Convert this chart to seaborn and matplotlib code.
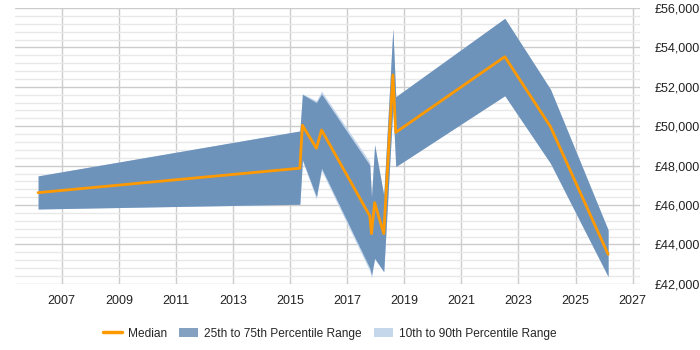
import matplotlib
matplotlib.use("Agg")
import matplotlib.pyplot as plt
import seaborn as sns
import pandas as pd
import numpy as np
from matplotlib.ticker import MultipleLocator, FuncFormatter
from matplotlib.lines import Line2D
from matplotlib.patches import Patch

# data (decimal years)
years = [2006.17, 2015.34, 2015.43, 2015.92, 2016.10, 2017.79, 2017.85, 2017.96, 2018.28, 2018.60, 2018.70, 2022.52, 2024.12, 2026.14]
median = [46630, 47870, 50050, 48880, 49810, 45450, 44550, 46120, 44550, 52600, 49690, 53530, 49980, 43500]
p25 = [45800, 46040, 48300, 46430, 47870, 42800, 42450, 43300, 42620, 51000, 47950, 51550, 48120, 42370]
p75 = [47480, 49760, 51620, 51200, 51640, 48030, 46400, 49050, 46500, 54970, 51500, 55480, 51880, 44740]
p10 = [45800, 46040, 48250, 46300, 47750, 42650, 42300, 43250, 42600, 51000, 47950, 51550, 48120, 42370]
p90 = [47480, 49760, 51650, 51300, 51780, 48200, 46400, 49100, 46500, 54970, 51500, 55480, 51880, 44740]

df = pd.DataFrame({"year": years, "median": median})

sns.set_style("white")
plt.rcParams['font.family'] = ['Liberation Sans', 'DejaVu Sans']

fig = plt.figure(figsize=(7, 3.5), dpi=100)
ax = fig.add_axes([0.021, 0.189, 0.893, 0.788])

c_dark = "#6e93bb"
c_light = "#c5d7eb"
c_med = "#ff9900"

ax.fill_between(years, p10, p90, color=c_light, lw=0, zorder=2)
ax.fill_between(years, p25, p75, color=c_dark, lw=0, zorder=3)
sns.lineplot(data=df, x="year", y="median", ax=ax, color=c_med, lw=2, zorder=4, legend=False)

ax.set_xlim(2005.35, 2027.25)
ax.set_ylim(42000, 56000)
ax.set_xticks(np.arange(2007, 2028, 2))
ax.xaxis.set_major_formatter(FuncFormatter(lambda v, p: f"{int(round(v))}"))
ax.yaxis.set_major_locator(MultipleLocator(2000))
ax.yaxis.set_minor_locator(MultipleLocator(400))
ax.yaxis.set_major_formatter(FuncFormatter(lambda v, p: f"£{int(v):,}"))
ax.yaxis.tick_right()
ax.grid(True, which="major", axis="both", color="#cccccc", lw=1, zorder=0)
ax.grid(True, which="minor", axis="y", color="#e8e8e8", lw=1, zorder=0)
ax.set_axisbelow(True)
ax.tick_params(axis="both", which="both", length=0, labelsize=9, colors="#222222")
ax.tick_params(axis="y", which="major", pad=11)
ax.tick_params(axis="x", which="major", length=5, color="#cccccc", pad=3)
for s in ax.spines.values():
    s.set_visible(False)
ax.set_xlabel("")
ax.set_ylabel("")

handles = [Line2D([0], [0], color=c_med, lw=2.5),
           Patch(facecolor="#84a1c2", edgecolor="none"),
           Patch(facecolor=c_light, edgecolor="none")]
labels = ["Median", "25th to 75th Percentile Range", "10th to 90th Percentile Range"]
fig.legend(handles, labels, loc="center", bbox_to_anchor=(0.471, 0.047), ncol=3, frameon=False,
           fontsize=8.6, handlelength=1.6, columnspacing=1.0, handletextpad=0.5)

fig.savefig("out.png", dpi=100)
